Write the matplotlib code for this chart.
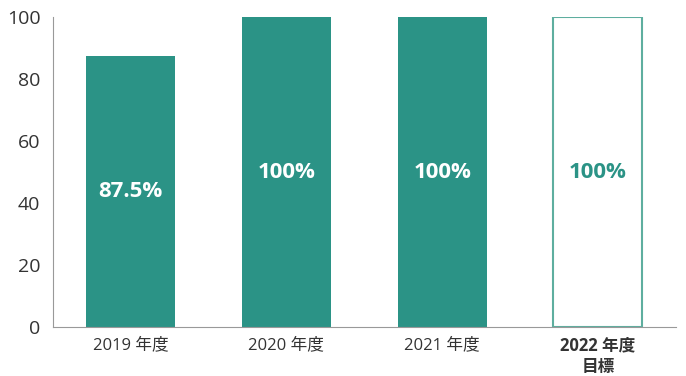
import matplotlib.pyplot as plt

plt.rcParams['font.family'] = ['Open Sans', 'Noto Sans CJK JP', 'DejaVu Sans']

# datos
categorias = ["2019 年度", "2020 年度", "2021 年度", "2022 年度\n目標"]
valores = [87.5, 100, 100, 100]
etiquetas = ["87.5%", "100%", "100%", "100%"]
es_objetivo = [False, False, False, True]

verde = '#2b9386'
borde = '#5eae9f'

fig = plt.figure(figsize=(6.86, 3.76), dpi=100)
ax = fig.add_axes([0.077, 0.13, 0.908, 0.825])

x = list(range(len(categorias)))
for i, (v, obj) in enumerate(zip(valores, es_objetivo)):
    if obj:
        ax.bar(x[i], v, width=0.57, color='white', edgecolor=borde, linewidth=1.5)
        ax.text(x[i], v / 2, etiquetas[i], ha='center', va='center',
                color=verde, fontsize=16, fontweight='bold')
    else:
        ax.bar(x[i], v, width=0.57, color=verde)
        ax.text(x[i], v / 2, etiquetas[i], ha='center', va='center',
                color='white', fontsize=16, fontweight='bold')

ax.set_xlim(-0.5, 3.5)
ax.set_ylim(0, 100)
ax.set_yticks([0, 20, 40, 60, 80, 100])
ax.set_xticks(x)
ax.set_xticklabels(categorias)
for lbl, obj in zip(ax.get_xticklabels(), es_objetivo):
    if obj:
        lbl.set_fontweight('bold')
        lbl.set_color('#111111')

ax.tick_params(axis='y', length=0, labelsize=14, pad=9, colors='#333333')
ax.tick_params(axis='x', length=0, labelsize=12, pad=7, colors='#333333')

for s in ['top', 'right']:
    ax.spines[s].set_visible(False)
ax.spines['left'].set_color('#999999')
ax.spines['bottom'].set_color('#999999')

plt.savefig('out.png', dpi=100)
